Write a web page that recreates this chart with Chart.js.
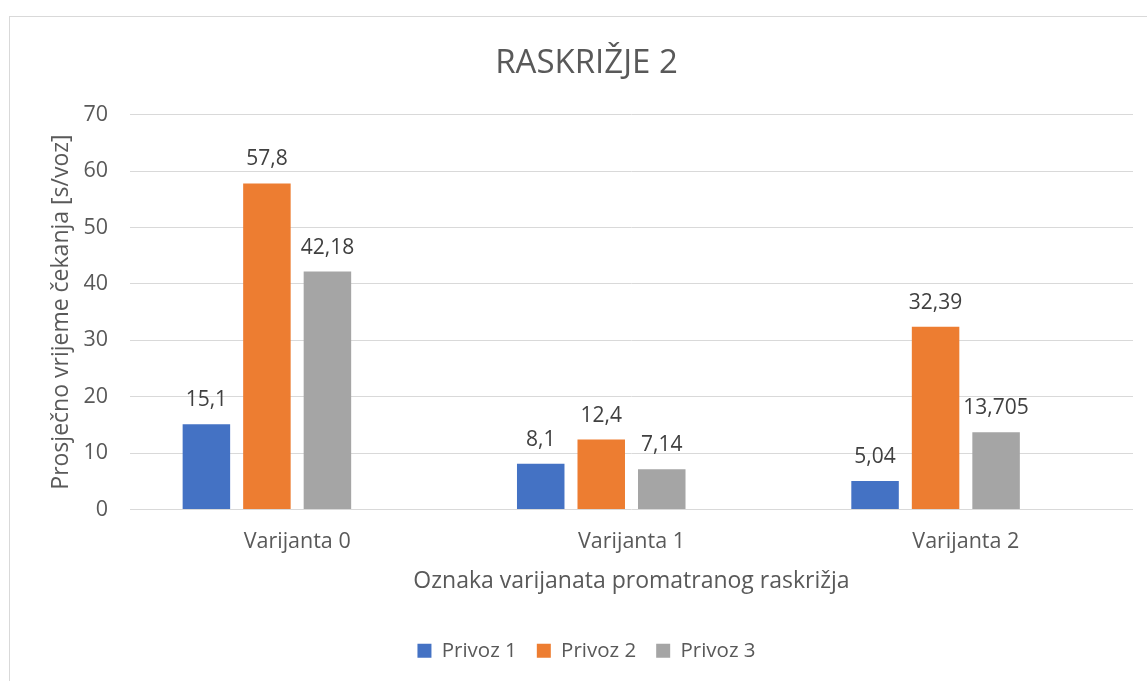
<!DOCTYPE html>
<html>
<head>
<meta charset="utf-8">
<script src="https://cdn.jsdelivr.net/npm/chart.js@4"></script>
<style>
  html, body { margin: 0; padding: 0; background: #fff; }
  #wrap { position: relative; width: 1147px; height: 681px; overflow: hidden; }
  #frame { position: absolute; left: 9px; top: 16px; width: 1200px; height: 700px;
           border: 1px solid #d9d9d9; box-sizing: border-box; }
  canvas { position: absolute; left: 0; top: 0; }
</style>
</head>
<body>
<div id="wrap">
  <div id="frame"></div>
  <canvas id="chart" width="1147" height="681"></canvas>
</div>
<script>
const categories = ['Varijanta 0', 'Varijanta 1', 'Varijanta 2']
const privoz1 = [15.1, 8.1, 5.04]
const privoz2 = [57.8, 12.4, 32.39]
const privoz3 = [42.18, 7.14, 13.705]
// the sheet has a fourth, empty series that still reserves a slot in each group
const privoz4 = [null, null, null]
const yTicks = [0, 10, 20, 30, 40, 50, 60, 70]

const fontName = '"Open Sans", sans-serif'
const textColor = '#595959'

// values above the bars, decimal comma like the source sheet
const valueLabels = {
  id: 'valueLabels',
  afterDatasetsDraw(chart) {
    const ctx = chart.ctx
    ctx.save()
    ctx.font = '21px ' + fontName
    ctx.fillStyle = '#404040'
    ctx.textAlign = 'center'
    ctx.textBaseline = 'middle'
    chart.data.datasets.forEach(function (ds, i) {
      chart.getDatasetMeta(i).data.forEach(function (bar, j) {
        if (ds.data[j] == null) return
        const txt = String(ds.data[j]).replace('.', ',')
        ctx.fillText(txt, bar.x, bar.y - 24)
      })
    })
    ctx.restore()
  }
}

const ctx = document.getElementById('chart')
const chart = new Chart(ctx, {
  type: 'bar',
  data: {
    labels: categories,
    datasets: [
      { label: 'Privoz 1', data: privoz1, backgroundColor: '#4472C4' },
      { label: 'Privoz 2', data: privoz2, backgroundColor: '#ED7D31' },
      { label: 'Privoz 3', data: privoz3, backgroundColor: '#A5A5A5' },
      { label: '', data: privoz4, backgroundColor: '#FFC000' }
    ]
  },
  options: {
    responsive: false,
    animation: false,
    layout: { padding: { left: 40, right: 14, top: 20, bottom: 10 } },
    datasets: {
      bar: { categoryPercentage: 0.724, barPercentage: 0.785 }
    },
    plugins: {
      title: {
        display: true,
        text: 'RASKRIŽJE 2',
        color: textColor,
        font: { family: fontName, size: 33, weight: 'normal' },
        padding: { top: 24, bottom: 31 }
      },
      legend: {
        position: 'bottom',
        labels: {
          color: textColor,
          font: { family: fontName, size: 20.5 },
          boxWidth: 14,
          boxHeight: 14,
          padding: 20,
          filter: function (item) { return item.text !== '' }
        }
      },
      tooltip: { enabled: false }
    },
    scales: {
      x: {
        afterFit: function (scale) { scale.height = 111 },
        grid: { display: false, drawTicks: false },
        border: { display: false },
        ticks: { color: textColor, font: { family: fontName, size: 21.5 }, padding: 19 },
        title: {
          display: true,
          text: 'Oznaka varijanata promatranog raskrižja',
          color: textColor,
          font: { family: fontName, size: 23 },
          padding: { top: 0, bottom: 25 }
        }
      },
      y: {
        min: 0,
        max: 70,
        afterBuildTicks: function (scale) {
          scale.ticks = yTicks.map(function (v) { return { value: v } })
        },
        afterFit: function (scale) { scale.width = 90 },
        grid: { color: '#d9d9d9', lineWidth: 1, drawTicks: false },
        border: { display: false },
        ticks: { color: textColor, font: { family: fontName, size: 21.5 }, padding: 22 },
        title: {
          display: true,
          text: 'Prosječno vrijeme čekanja [s/voz]',
          color: textColor,
          font: { family: fontName, size: 23 },
          padding: { top: 8, bottom: 0 }
        }
      }
    }
  },
  plugins: [valueLabels]
})
</script>
</body>
</html>
